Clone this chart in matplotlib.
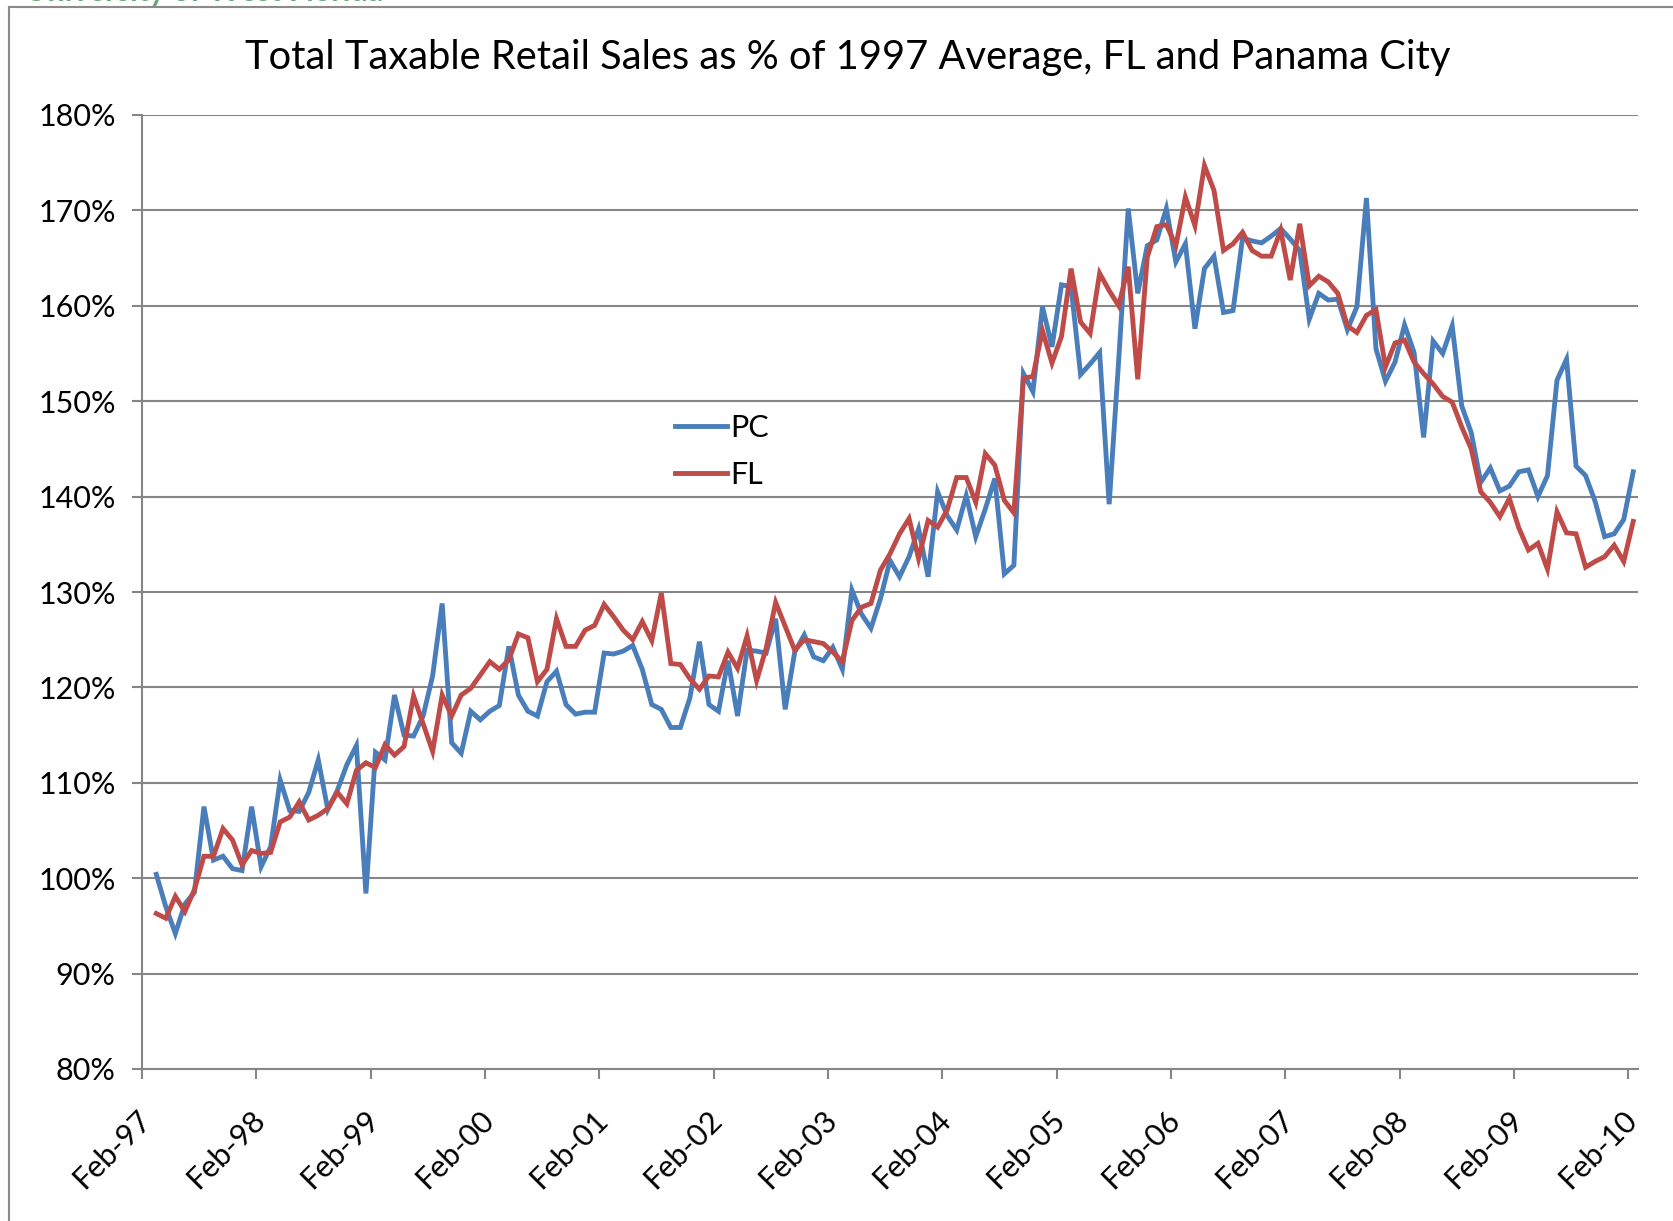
import numpy as np
import matplotlib
matplotlib.use("Agg")
import matplotlib.pyplot as plt
from matplotlib.lines import Line2D
from matplotlib.transforms import ScaledTranslation

plt.rcParams['font.family'] = ['Lato', 'DejaVu Sans']

# ---- data (monthly, Mar-97 .. Feb-10), % of 1997 average ----
start_month = "1997-03"
pc = [100.4, 97.0, 94.2, 97.3, 98.5, 107.5, 101.9, 102.3, 101.0, 100.8, 107.5, 101.2,
      103.3, 110.3, 107.1, 107.0, 109.0, 112.4, 107.2, 109.2, 111.9, 113.9, 98.4, 113.2,
      112.4, 119.2, 115.0, 114.9, 117.0, 121.2, 128.8, 114.2, 113.1, 117.5, 116.6, 117.5,
      118.1, 124.3, 119.2, 117.5, 117.0, 120.6, 121.7, 118.2, 117.2, 117.4, 117.4, 123.6,
      123.5, 123.8, 124.4, 121.9, 118.2, 117.7, 115.8, 115.8, 118.9, 124.8, 118.2, 117.5,
      122.8, 117.0, 123.9, 123.8, 123.6, 127.2, 117.7, 123.7, 125.5, 123.2, 122.8, 124.2,
      121.9, 130.2, 127.7, 126.2, 129.3, 133.3, 131.6, 133.7, 136.6, 131.6, 140.5, 138.0,
      136.5, 140.1, 135.8, 138.7, 141.9, 131.9, 132.8, 152.9, 151.0, 159.9, 155.7, 162.2,
      162.0, 152.8, 153.9, 155.1, 139.2, 154.3, 170.2, 161.3, 166.3, 166.9, 170.2, 164.6,
      166.5, 157.6, 163.9, 165.2, 159.3, 159.5, 167.1, 166.8, 166.6, 167.3, 168.1, 167.0,
      165.8, 158.6, 161.3, 160.6, 160.7, 157.5, 159.9, 171.3, 155.5, 152.1, 154.1, 158.0,
      155.1, 146.2, 156.3, 155.0, 157.9, 149.5, 146.7, 141.5, 143.0, 140.6, 141.1, 142.6,
      142.8, 140.0, 142.2, 152.2, 154.4, 143.2, 142.2, 139.5, 135.8, 136.1, 137.6, 142.6]
fl = [96.3, 95.8, 98.1, 96.5, 98.8, 102.3, 102.3, 105.2, 104.0, 101.4, 102.9, 102.6,
      102.7, 105.9, 106.4, 108.0, 106.1, 106.6, 107.3, 109.0, 107.8, 111.3, 112.1, 111.6,
      114.0, 112.9, 113.8, 119.1, 116.2, 113.3, 119.2, 117.0, 119.2, 119.9, 121.3, 122.7,
      121.9, 122.9, 125.6, 125.2, 120.6, 121.9, 127.2, 124.3, 124.3, 126.0, 126.5, 128.7,
      127.4, 126.0, 125.0, 126.9, 124.9, 129.9, 122.5, 122.4, 120.9, 119.8, 121.2, 121.1,
      123.7, 122.0, 125.4, 120.7, 124.1, 128.9, 126.4, 123.9, 125.0, 124.8, 124.6, 123.7,
      122.7, 127.0, 128.4, 128.8, 132.3, 134.0, 136.1, 137.7, 133.5, 137.5, 136.8, 138.6,
      142.0, 142.0, 139.4, 144.5, 143.3, 139.6, 138.3, 152.4, 152.6, 157.4, 154.0, 156.8,
      163.9, 158.3, 157.1, 163.4, 161.6, 160.0, 164.1, 152.3, 165.1, 168.3, 168.5, 166.3,
      171.4, 168.4, 174.7, 172.1, 165.8, 166.5, 167.7, 165.8, 165.2, 165.2, 167.9, 162.7,
      168.6, 162.1, 163.1, 162.5, 161.3, 157.9, 157.2, 159.0, 159.6, 153.6, 156.1, 156.4,
      154.1, 152.9, 151.8, 150.5, 149.9, 147.3, 145.0, 140.5, 139.4, 137.9, 139.8, 136.7,
      134.4, 135.1, 132.4, 138.4, 136.2, 136.1, 132.6, 133.2, 133.7, 134.9, 133.2, 137.4]
xtick_labels = ['Feb-97', 'Feb-98', 'Feb-99', 'Feb-00', 'Feb-01', 'Feb-02', 'Feb-03',
                'Feb-04', 'Feb-05', 'Feb-06', 'Feb-07', 'Feb-08', 'Feb-09', 'Feb-10']
ytick_values = [80, 90, 100, 110, 120, 130, 140, 150, 160, 170, 180]
series_names = ['PC', 'FL']
title = 'Total Taxable Retail Sales as % of 1997 Average, FL and Panama City'

# x positions: months since Feb-97 (points sit mid-month)
n = len(pc)
x = np.arange(1, n + 1) + 0.5

W, H = 1674, 1221
fig = plt.figure(figsize=(W / 100, H / 100), dpi=100)
fig.patch.set_facecolor('white')

L, R, T, B = 142, 1638, 115, 1069
ax = fig.add_axes([L / W, 1 - B / H, (R - L) / W, (B - T) / H])

blue = '#4A7EBB'
red = '#BE4B48'
grid = '#868686'

ax.plot(x, pc, color=blue, lw=3.5, label=series_names[0], solid_joinstyle='miter')
ax.plot(x, fl, color=red, lw=3.5, label=series_names[1], solid_joinstyle='miter')

ax.set_xlim(0, 157)
ax.set_ylim(80, 180)
ax.set_yticks(ytick_values)
ax.set_yticklabels([f'{v}%' for v in ytick_values])
ax.set_xticks(np.arange(0, 12 * len(xtick_labels), 12))
ax.set_xticklabels(xtick_labels, rotation=45, ha='right', va='center',
                   rotation_mode='anchor')

ax.yaxis.grid(True, color=grid, lw=1.5)
ax.set_axisbelow(True)
for s in ['top', 'right']:
    ax.spines[s].set_visible(False)
for s in ['left', 'bottom']:
    ax.spines[s].set_color(grid)
    ax.spines[s].set_linewidth(1.5)

ax.tick_params(axis='y', direction='out', length=7, width=1.5, color=grid,
               labelsize=22, pad=12, labelcolor='black')
ax.tick_params(axis='x', direction='out', length=7, width=1.5, color=grid,
               labelsize=22, pad=26, labelcolor='black')
off = ScaledTranslation(4 / 100, 0, fig.dpi_scale_trans)
for lab in ax.get_xticklabels():
    lab.set_transform(lab.get_transform() + off)

leg = ax.legend(loc='upper left', bbox_to_anchor=(675 / W, 1 - 414 / H),
                bbox_transform=fig.transFigure, frameon=False, fontsize=22,
                handlelength=1.7, handletextpad=0.12, labelspacing=0.62,
                borderpad=0, borderaxespad=0)

fig.text(848 / W, 1 - 57 / H, title, ha='center', va='center', fontsize=28.7,
         color='black')

# faint cropped header text at the very top-left (mostly outside the picture)
fig.text(383 / W, 1 - 1 / H, 'University of West Florida', ha='right',
         va='baseline', fontsize=22, fontweight='bold', color='#6aa57a')

# chart-area border (top and left visible)
fig.add_artist(Line2D([9 / W, 9 / W], [0, 1 - 7 / H], color='#8a8a8a', lw=1.5))
fig.add_artist(Line2D([9 / W, 1], [1 - 7 / H, 1 - 7 / H], color='#8a8a8a', lw=1.5))

fig.savefig('out.png', dpi=100, facecolor='white')
